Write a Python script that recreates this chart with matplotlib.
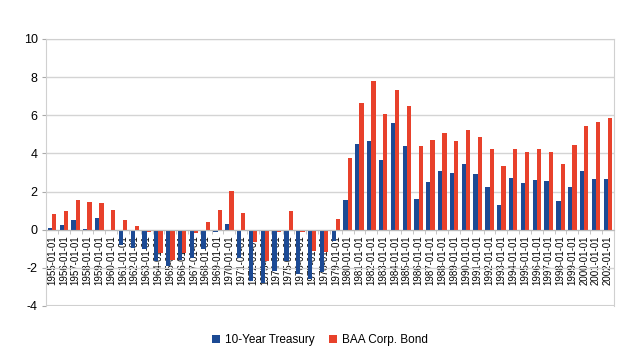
import matplotlib
matplotlib.use("Agg")
import matplotlib.pyplot as plt
import numpy as np

years = list(range(1955, 2003))
labels = [f"{y}-01-01" for y in years]

# fmt: off
treasury = [
    0.10, 0.25, 0.49, 0.05, 0.63, -0.03, -0.78, -0.95, -1.00, -1.65,
    -1.90, -1.60, -1.50, -1.00, -0.10, 0.28, -1.50, -2.70, -2.80, -2.15,
    -1.65, -2.35, -2.60, -2.20, -0.60, 1.53, 4.50, 4.65, 3.64, 5.57,
    4.36, 1.62, 2.49, 3.07, 2.96, 3.43, 2.93, 2.25, 1.29, 2.70,
    2.47, 2.60, 2.54, 1.50, 2.21, 3.08, 2.68, 2.65,
]
baa = [
    0.82, 0.97, 1.55, 1.46, 1.38, 1.03, 0.52, 0.19, -0.14, -1.25,
    -1.60, -1.25, -0.15, 0.38, 1.02, 2.03, 0.89, -0.67, -1.65, -0.14,
    0.99, -0.12, -1.10, -1.15, 0.56, 3.75, 6.64, 7.77, 6.08, 7.33,
    6.46, 4.36, 4.69, 5.07, 4.63, 5.23, 4.86, 4.22, 3.34, 4.23,
    4.09, 4.22, 4.06, 3.45, 4.44, 5.42, 5.63, 5.85,
]
# fmt: on

blue = "#1c4a94"
red = "#e8412b"
grid = "#d4d4d4"

plt.rcParams["font.family"] = ["Liberation Sans", "DejaVu Sans"]
plt.rcParams["axes.unicode_minus"] = False

fig = plt.figure(figsize=(6.4, 3.57), dpi=100)
ax = fig.add_axes([0.072, 0.143, 0.887, 0.748])

x = np.arange(len(years))
w = 0.36
ax.bar(x - w / 2, treasury, w, color=blue, label="10-Year Treasury", zorder=2)
ax.bar(x + w / 2, baa, w, color=red, label="BAA Corp. Bond", zorder=2)

ax.set_xlim(-0.5, len(years) - 0.5)
ax.set_ylim(-4, 10)
ax.set_yticks(range(-4, 11, 2))
ax.tick_params(axis="y", labelsize=9, length=3, color="#aaaaaa", pad=3)
ax.grid(axis="y", color=grid, linewidth=1, zorder=0)

# category axis drawn at zero
ax.spines["bottom"].set_position(("data", 0))
ax.spines["bottom"].set_color("#bbbbbb")
ax.spines["bottom"].set_zorder(3)
for s in ["top", "right", "left"]:
    ax.spines[s].set_color("#d0d0d0")
ax.set_xticks(x)
ax.set_xticklabels(labels, rotation=90, fontsize=7, va="top")
ax.tick_params(axis="x", length=0, pad=4)
ax.set_xticks(x[:-1] + 0.5, minor=True)
ax.tick_params(axis="x", which="minor", length=3, color="#bbbbbb")
for t in ax.get_xticklabels():
    t.set_zorder(4)
ax.axhline(-4, color="#d0d0d0", linewidth=1.5, zorder=1)

fig.legend(loc="lower center", bbox_to_anchor=(0.5, 0.0), ncol=2, frameon=False,
           fontsize=8.5, handlelength=0.7, handleheight=0.7, handletextpad=0.4,
           columnspacing=1.2)

fig.savefig("out.png", dpi=100)
